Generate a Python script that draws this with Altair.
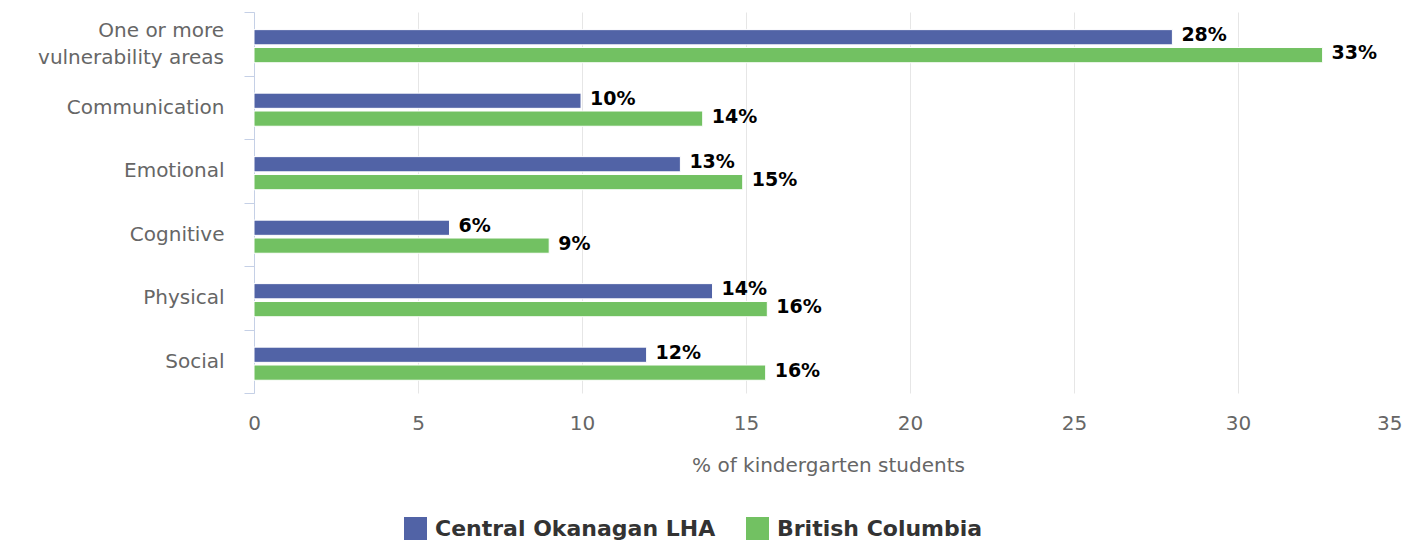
import altair as alt
import pandas as pd

categories = ["One or more|vulnerability areas", "Communication", "Emotional", "Cognitive", "Physical", "Social"]
series = ["Central Okanagan LHA", "British Columbia"]
central = [28.0, 9.97, 13.0, 5.96, 13.98, 11.97]
bc = [32.58, 13.68, 14.9, 9.0, 15.65, 15.6]
central_labels = ["28%", "10%", "13%", "6%", "14%", "12%"]
bc_labels = ["33%", "14%", "15%", "9%", "16%", "16%"]
colors = ["#5163a6", "#72c162"]

rows = []
for i, c in enumerate(categories):
    rows.append({"cat": c, "series": series[0], "value": central[i], "label": central_labels[i]})
    rows.append({"cat": c, "series": series[1], "value": bc[i], "label": bc_labels[i]})
df = pd.DataFrame(rows)
cat_df = pd.DataFrame({"cat": categories})

FONT = "DejaVu Sans"

y_enc = alt.Y("cat:N", sort=categories, title=None,
              scale=alt.Scale(paddingInner=0, paddingOuter=0),
              axis=alt.Axis(labelExpr="indexof(datum.label, '|') >= 0 ? '' : datum.label",
                            labelFont=FONT, labelFontSize=20,
                            labelColor="#666666", labelPadding=20, tickBand="extent", tickSize=10,
                            tickColor="#c5d0e6", domainColor="#c5d0e6", labelLimit=300))
yoff = alt.YOffset("series:N", sort=series,
                   scale=alt.Scale(paddingInner=0.15, paddingOuter=0.849, align=0.58))

x_enc = alt.X("value:Q", title="% of kindergarten students",
              scale=alt.Scale(domain=[0, 35], nice=False),
              axis=alt.Axis(values=[0, 5, 10, 15, 20, 25, 30, 35], grid=True, gridColor="#e6e6e6",
                            domain=False, ticks=False, labelFont=FONT, labelFontSize=20,
                            labelColor="#666666", labelPadding=20, titleFont=FONT, titleFontSize=20,
                            titleFontWeight="normal", titleColor="#666666", titlePadding=22,
                            labelAlign={"condition": {"test": "datum.value === 35", "value": "right"}, "value": "center"}))

bars = alt.Chart(df).mark_bar(stroke="white", strokeWidth=1).encode(
    x=x_enc, y=y_enc, yOffset=yoff,
    color=alt.Color("series:N", sort=series, scale=alt.Scale(domain=series, range=colors),
                    legend=alt.Legend(title=None, orient="none", legendX=150, legendY=505,
                                      direction="horizontal", symbolType="square", symbolSize=529,
                                      symbolStrokeWidth=0, labelFont=FONT, labelFontSize=22,
                                      labelFontWeight="bold", labelColor="#333333", labelLimit=600,
                                      columnPadding=30, labelOffset=8))
)

text = alt.Chart(df).mark_text(align="left", baseline="middle", dx=9, dy=-2, font=FONT,
                               fontSize=19, fontWeight="bold", color="#000000").encode(
    x=alt.X("value:Q"), y=alt.Y("cat:N", sort=categories), yOffset=yoff, text="label:N"
)

multi = alt.Chart(cat_df).transform_filter(
    "indexof(datum.cat, '|') >= 0"
).transform_calculate(
    lines="split(datum.cat, '|')"
).mark_text(align="right", baseline="middle", dy=-13, lineHeight=27, font=FONT, fontSize=20,
            color="#666666").encode(
    x=alt.value(-30), y=alt.Y("cat:N", sort=categories), text="lines:N"
)

chart = alt.layer(bars, text, multi).properties(
    width=1148, height=381,
    autosize=alt.AutoSizeParams(type="none"),
    padding={"left": 246, "top": 4, "right": 0, "bottom": 150},
).configure_view(stroke=None)

chart.save("out.html", embed_options={"renderer": "svg", "actions": False})
